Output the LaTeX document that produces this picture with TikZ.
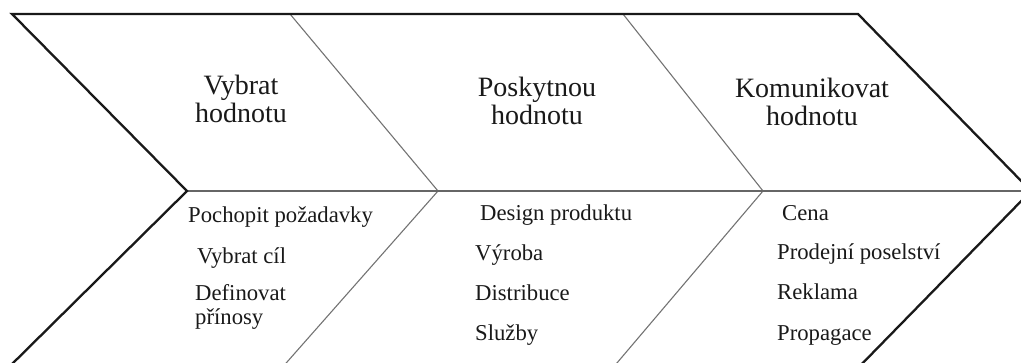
\documentclass[tikz,border=0pt]{standalone}
\usepackage{fontspec}
\setmainfont{Liberation Serif}
\begin{document}
\begin{tikzpicture}[x=1pt,y=-1pt,
  outline/.style={line width=2.3pt, black!90, line join=miter},
  divider/.style={line width=1.1pt, black!55},
  spine/.style={line width=1.1pt, black!60},
  heading/.style={inner sep=0pt, anchor=base, text=black!90,
    font=\fontsize{28}{28}\selectfont},
  item/.style={inner sep=0pt, anchor=base west, text=black!90,
    font=\fontsize{22.7}{24}\selectfont},
]
\useasboundingbox (0,0) rectangle (1021,363);
\clip (0,0) rectangle (1021,363);

% corner points of the three chevrons
\coordinate (tl) at (12,14);
\coordinate (notch) at (187,191);
\coordinate (bl) at (6,370);
\coordinate (tr) at (858,14);
\coordinate (tip) at (1031,191);
\coordinate (br) at (856,370);
\coordinate (s1t) at (290,14);
\coordinate (s1p) at (438,191);
\coordinate (s1b) at (280,370);
\coordinate (s2t) at (623,14);
\coordinate (s2p) at (763,191);
\coordinate (s2b) at (611,370);

% inner dividers and the central spine
\draw[divider] (s1t) -- (s1p) -- (s1b);
\draw[divider] (s2t) -- (s2p) -- (s2b);
\draw[spine] (notch) -- (tip);

% outer arrow outline
\draw[outline] (bl) -- (notch) -- (tl) -- (tr) -- (tip) -- (br);

% stage headings
\node[heading] (h1) at (241,95) {\begin{tabular}[t]{@{}c@{}}Vybrat\\hodnotu\end{tabular}};
\node[heading] (h2) at (537,97) {\begin{tabular}[t]{@{}c@{}}Poskytnou\\hodnotu\end{tabular}};
\node[heading] (h3) at (812,98) {\begin{tabular}[t]{@{}c@{}}Komunikovat\\hodnotu\end{tabular}};

% activities of each stage
\node[item] (a1) at (188,223) {Pochopit požadavky};
\node[item] (a2) at (197,264) {Vybrat cíl};
\node[item] (a3) at (195,301) {\begin{tabular}[t]{@{}l@{}}Definovat\\přínosy\end{tabular}};

\node[item] (b1) at (480,221) {Design produktu};
\node[item] (b2) at (475,261) {Výroba};
\node[item] (b3) at (475,301) {Distribuce};
\node[item] (b4) at (475,341) {Služby};

\node[item] (c1) at (782,221) {Cena};
\node[item] (c2) at (777,260) {Prodejní poselství};
\node[item] (c3) at (777,300) {Reklama};
\node[item] (c4) at (777,341) {Propagace};
\end{tikzpicture}
\end{document}
